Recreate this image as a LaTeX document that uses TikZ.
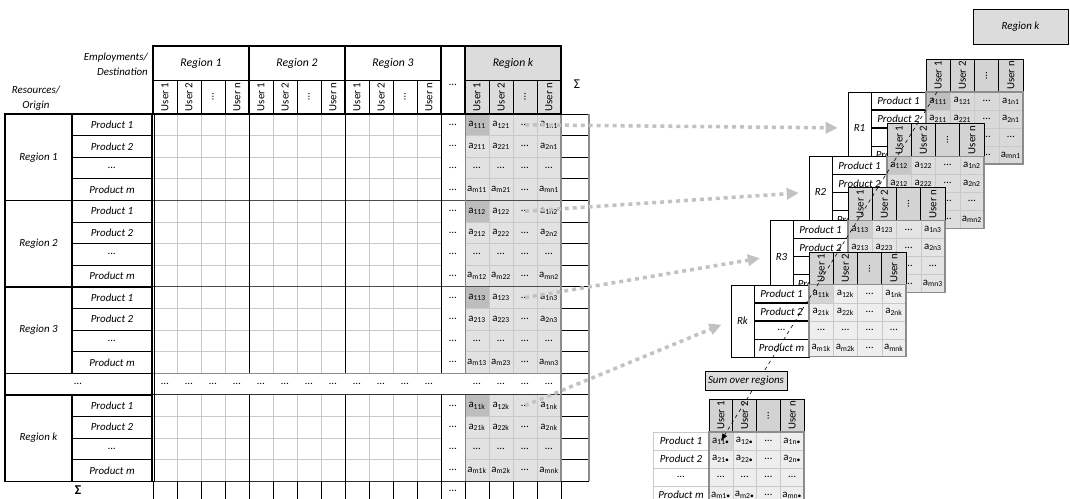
\documentclass[tikz,border=0pt]{standalone}
\usepackage{fontspec}
\setmainfont{Carlito}
\usepackage{tikz}
\usetikzlibrary{arrows.meta,positioning,calc}

\definecolor{gridgray}{HTML}{C9C9C9}
\definecolor{kfill}{HTML}{E2E2E2}
\definecolor{khead}{HTML}{DCDCDC}
\definecolor{adark}{HTML}{BDBDBD}
\definecolor{flowgray}{HTML}{C2C2C2}
\definecolor{thead}{HTML}{D3D3D3}
\definecolor{rone}{HTML}{D9D9D9}
\definecolor{rtwo}{HTML}{DDDDDD}
\definecolor{rthree}{HTML}{E4E4E4}
\definecolor{rk}{HTML}{EEEEEE}
\definecolor{aone}{HTML}{BEBEBE}
\definecolor{atwo}{HTML}{C6C6C6}
\definecolor{athree}{HTML}{CDCDCD}
\definecolor{ak}{HTML}{D4D4D4}

\begin{document}
\begin{tikzpicture}[x=0.3mm, y=-0.3mm, font=\fontsize{9.3}{11}\selectfont]
  \tikzset{thickrule/.style={line width=1.2pt},
           thinrule/.style={line width=0.6pt},
           cellrule/.style={draw=gridgray, line width=0.6pt},
           txt/.style={inner sep=0pt},
           itx/.style={inner sep=0pt, font=\fontsize{9.3}{12.5}\selectfont\itshape},
           usr/.style={inner sep=0pt, rotate=90},
           flow/.style={draw=flowgray, line width=3pt, dash pattern=on 3.4pt off 3.4pt,
                        -{Triangle[length=3.6mm, width=3.4mm]}, shorten >=3mm},
           sumline/.style={dashed, line width=0.5pt, -{Latex[length=2.2mm]}}}
  \useasboundingbox (0,0) rectangle (1070,499);
  \clip (0,0) rectangle (1070,499);

  % ---- origin / destination table ----
  % shaded block of region k
  \fill[kfill] (465,114) rectangle (561,373.2) (465,394.8) rectangle (561,481.2);
  \foreach \yb in {114,200.4,286.8,394.8}
    \fill[adark] (465,\yb) rectangle (489,\yb+21.6);
  \fill[khead] (465,46) rectangle (561,114);

  % light cell grid
  \foreach \yb in {114,200.4,286.8,394.8}
    \foreach \j in {1,2,3}
      \draw[cellrule] (153,\yb+21.6*\j) -- (441,\yb+21.6*\j) (465,\yb+21.6*\j) -- (561,\yb+21.6*\j);
  \foreach \c in {1,2,3,5,6,7,9,10,11,14,15,16}
    \draw[cellrule] (153+24*\c,114) -- (153+24*\c,373.2) (153+24*\c,394.8) -- (153+24*\c,481.2);

  % region rules
  \draw[black!70, thinrule] (153,200.4) -- (561,200.4) (153,286.8) -- (561,286.8);
  \draw[black!45, line width=1.2pt] (153,373.2) -- (561,373.2);
  \draw[black!80, thinrule] (153,394.8) -- (589,394.8) (153,481.2) -- (589,481.2);
  \foreach \x in {249,345,441}
    \draw[thinrule] (\x,114) -- (\x,373.2) (\x,394.8) -- (\x,499);
  \draw[black!50, thinrule] (465,114) -- (465,373.2) (465,394.8) -- (465,481.2);
  \draw[thinrule] (154.5,114) -- (154.5,481.2);

  % sum column and sum row
  \foreach \yb in {114,200.4,286.8,394.8}
    \foreach \j in {0,1,2,3,4} \draw[thinrule] (561,\yb+21.6*\j) -- (589,\yb+21.6*\j);
  \draw[black!45, line width=1.4pt] (589,114) -- (589,481.2);
  \draw[black!45, line width=1.4pt] (561,114) -- (561,481.2);
  \foreach \c in {0,...,17} \draw[thinrule] (153+24*\c,481.2) -- (153+24*\c,499);

  % column heads
  \foreach \xa/\nm [count=\r] in {153/Region 1,249/Region 2,345/Region 3,465/Region k}{
    \draw[thickrule] (\xa,46) rectangle (\xa+96,114);
    \draw[thinrule] (\xa,80) -- (\xa+96,80);
    \node[itx, font=\fontsize{10}{12}\selectfont\itshape] (head\r) at (\xa+48,63) {\nm};
    \foreach \u [count=\i from 0] in {User 1,User 2,\dots,User n}{
      \ifnum\i>0 \draw[thinrule] (\xa+24*\i,80) -- (\xa+24*\i,114); \fi
      \node[usr] (u\r\i) at (\xa+12+24*\i,97) {\u};
    }
  }
  \draw[thickrule] (441,46) rectangle (465,114);
  \node[txt] (headdots) at (453,85) {\dots};
  \node[txt, font=\fontsize{11.5}{12}\selectfont] (sumcol) at (577,84) {Σ};
  \node[itx, align=right, anchor=east] (emp) at (148,64) {Employments/\\Destination};
  \node[itx, align=center] (res) at (36,98) {Resources/\\Origin};

  % origin regions and products
  \draw[thickrule] (5,114) rectangle (152,481.2);
  \draw[thickrule] (72,114) -- (72,373.2) (72,394.8) -- (72,481.2);
  \foreach \y in {200.4,286.8,373.2,394.8} \draw[thickrule] (5,\y) -- (152,\y);
  \foreach \blk/\yb in {1/114,2/200.4,3/286.8,k/394.8}{
    \foreach \j in {1,2,3} \draw[thinrule] (72,\yb+21.6*\j) -- (152,\yb+21.6*\j);
    \node[itx] (reg\blk) at (38.5,\yb+43.2) {Region \blk};
    \foreach \pname [count=\j from 0] in {Product 1,Product 2,\dots,Product m}
      \node[itx] (prod\blk\j) at (112,\yb+10.8+21.6*\j) {\pname};
  }

  % cells of region k
  \foreach \blk/\yb in {1/114,2/200.4,3/286.8,k/394.8}
    \foreach \row [count=\ri] in {1,2,0,m}{
      \node[txt] (dots\blk\ri) at (453,\yb-10.8+21.6*\ri) {\dots};
      \foreach \col [count=\ci] in {1,2,0,n}
        \node[txt] (k\blk-\ri-\ci) at (453+24*\ci,\yb-10.8+21.6*\ri)
          {\if\row0\dots\else\if\col0\dots\else a\textsubscript{\row\col\blk}\fi\fi};
    }
  \node[txt] (gapo) at (78,384) {\dots};
  \foreach \c in {0,...,11,13,14,15,16}
    \node[txt] (gap\c) at (165+24*\c,384) {\dots};
  \node[txt] (gapsum) at (453,491) {\dots};
  \node[txt, font=\fontsize{11.5}{12}\selectfont\bfseries] (sumrow) at (78,490) {Σ};

  % ---- stacked tables per region ----
  \foreach \reg/\tn/\df/\af in {1/0/rone/aone,2/1/rtwo/atwo,3/2/rthree/athree,k/3/rk/ak}{
    \begin{scope}[shift={(-39*\tn,64.3*\tn)}]
      \filldraw[fill=white, thinrule] (848,92) rectangle (926,164);
      \node[itx, draw, thinrule, minimum width=6.9mm, minimum height=21.6mm] (R\reg) at (859.5,128) {R\reg};
      \foreach \pname [count=\j from 0] in {Product 1,Product 2,\dots,Product m}
        \node[itx] (p\reg\j) at (898.5,101+18*\j) {\pname};
      \draw[line width=1.2pt] (871,110) -- (926,110) (871,128) -- (926,128);
      \draw[thinrule] (871,146) -- (926,146);
      % heads
      \filldraw[fill=thead, thinrule] (926,59) rectangle (1023,92);
      \foreach \i in {1,2,3} \draw[thinrule] (926+24.25*\i,59) -- (926+24.25*\i,92);
      \foreach \u [count=\i from 0] in {User 1,User 2,\dots,User n}
        \node[usr] (h\reg\i) at (938.1+24.25*\i,75.5) {\u};
      % cells
      \fill[\df] (926,92) rectangle (1023,164);
      \fill[\af] (926,92) rectangle (950.25,110);
      \foreach \i in {1,2,3}
        \draw[gridgray] (926+24.25*\i,92) -- (926+24.25*\i,164) (926,92+18*\i) -- (1023,92+18*\i);
      \draw[black!45, line width=0.9pt] (926,92) rectangle (1023,164);
      \foreach \row [count=\ri from 0] in {1,2,0,m}
        \foreach \col [count=\ci from 0] in {1,2,0,n}
          \node[txt] (r\reg-\ri-\ci) at (938.1+24.25*\ci,101+18*\ri)
            {\if\row0\dots\else\if\col0\dots\else a\textsubscript{\row\col\reg}\fi\fi};
    \end{scope}
  }

  % ---- sum over regions ----
  \filldraw[fill=white, draw=gridgray] (653,432) rectangle (709,504);
  \foreach \j in {1,2,3} \draw[gridgray] (653,432+18*\j) -- (709,432+18*\j);
  \foreach \pname [count=\j from 0] in {Product 1,Product 2,\dots,Product m}
    \node[itx] (s\j) at (681,441+18*\j) {\pname};
  \filldraw[fill=thead, thinrule] (709,399) rectangle (804,432);
  \foreach \i in {1,2,3} \draw[thinrule] (709+23.75*\i,399) -- (709+23.75*\i,432);
  \foreach \u [count=\i from 0] in {User 1,User 2,\dots,User n}
    \node[usr] (hs\i) at (720.9+23.75*\i,415.5) {\u};
  \fill[rk] (709,432) rectangle (804,504);
  \fill[ak] (709,432) rectangle (732.75,450);
  \foreach \i in {1,2,3}
    \draw[gridgray] (709+23.75*\i,432) -- (709+23.75*\i,504) (709,432+18*\i) -- (804,432+18*\i);
  \draw[black!45, line width=0.9pt] (709,432) rectangle (804,504);
  \foreach \row [count=\ri from 0] in {1,2,0,m}
    \foreach \col [count=\ci from 0] in {1,2,0,n}
      \node[txt] (sa-\ri-\ci) at (720.9+23.75*\ci,441+18*\ri)
        {\if\row0\dots\else\if\col0\dots\else a\textsubscript{\row\col\textbullet}\fi\fi};

  % summing line through the a_11 cells
  \coordinate (dstart) at (937,92);
  \draw[sumline] (dstart) -- (sa-0-0.center);
  \node[itx, draw, fill=khead, thinrule, minimum width=24.6mm, minimum height=5.6mm] (sumbox) at (746,381) {Sum over regions};

  % legend box
  \node[itx, draw, fill=khead, thinrule, minimum width=28.5mm, minimum height=10.5mm] (regk) at (1020.5,26.5) {Region k};
  \draw[line width=1.2pt] (regk.north east) -- (regk.south east) -- (regk.south west);

  % slices of region k go to the stacked tables
  \foreach \blk in {1,2,3,k}
    \draw[flow] (k\blk-1-3.center) -- (R\blk.west);
\end{tikzpicture}
\end{document}
